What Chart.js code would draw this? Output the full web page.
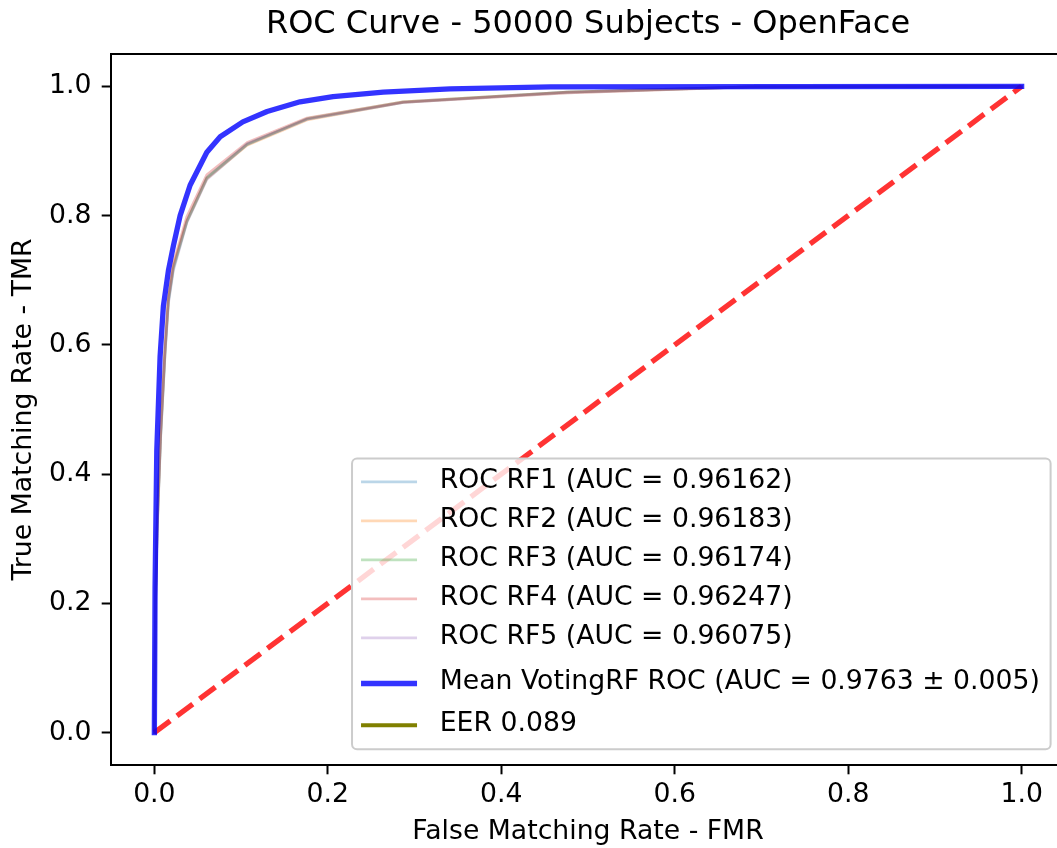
<!DOCTYPE html>
<html>
<head>
<meta charset="utf-8">
<script src="https://cdn.jsdelivr.net/npm/chart.js@4.4.1/dist/chart.umd.min.js"></script>
<style>
  html, body { margin: 0; padding: 0; background: #fff; overflow: hidden; }
</style>
</head>
<body>
<canvas id="roc" width="1065" height="848"></canvas>
<script>
// values
const rfFpr = [0, 0.0014, 0.0031, 0.0072, 0.0123, 0.0162, 0.0219, 0.0374, 0.0605, 0.107, 0.176, 0.287, 0.476, 0.687, 1];
const rf1Tpr = [0, 0.205, 0.313, 0.460, 0.590, 0.669, 0.720, 0.792, 0.859, 0.911, 0.949, 0.975, 0.991, 0.999, 1];
const rf2Tpr = [0, 0.200, 0.310, 0.462, 0.592, 0.671, 0.722, 0.791, 0.857, 0.909, 0.948, 0.975, 0.990, 0.999, 1];
const rf3Tpr = [0, 0.203, 0.311, 0.458, 0.588, 0.667, 0.718, 0.790, 0.858, 0.910, 0.950, 0.976, 0.991, 0.999, 1];
const rf4Tpr = [0, 0.210, 0.318, 0.466, 0.596, 0.675, 0.726, 0.798, 0.863, 0.913, 0.951, 0.976, 0.991, 0.999, 1];
const rf5Tpr = [0, 0.198, 0.306, 0.455, 0.585, 0.664, 0.715, 0.789, 0.856, 0.910, 0.949, 0.975, 0.990, 0.999, 1];
const rfAuc = [0.96162, 0.96183, 0.96174, 0.96247, 0.96075];

const meanFpr = [0, 0.0008, 0.0028, 0.0066, 0.0104, 0.0162, 0.0219, 0.0297, 0.0412, 0.0605, 0.0759, 0.102, 0.130, 0.168, 0.206, 0.264, 0.341, 0.457, 1];
const meanTpr = [0, 0.225, 0.437, 0.582, 0.660, 0.715, 0.753, 0.800, 0.847, 0.898, 0.922, 0.945, 0.961, 0.976, 0.984, 0.991, 0.996, 0.999, 1];
const meanAuc = 0.9763;
const stdAuc = 0.005;
const eer = 0.089;

const chanceX = [0, 1];
const chanceY = [0, 1];

const axisTicks = [0, 0.2, 0.4, 0.6, 0.8, 1.0];

const pts = (xs, ys) => xs.map((x, i) => ({x: x, y: ys[i]}));

const rfColors = [
  'rgba(31, 119, 180, 0.3)',
  'rgba(255, 127, 14, 0.3)',
  'rgba(44, 160, 44, 0.3)',
  'rgba(214, 39, 40, 0.3)',
  'rgba(148, 103, 189, 0.3)',
];
const rfTprs = [rf1Tpr, rf2Tpr, rf3Tpr, rf4Tpr, rf5Tpr];

// later folds on top, as matplotlib draws them
const rfSets = rfTprs.map((t, i) => ({
  label: 'ROC RF' + (i + 1) + ' (AUC = ' + rfAuc[i].toFixed(5) + ')',
  data: pts(rfFpr, t),
  borderColor: rfColors[i],
  borderWidth: 2.7,
  order: 7 - i,
}));

const fontFamily = '"DejaVu Sans", sans-serif';
Chart.defaults.font.family = fontFamily;
Chart.defaults.color = '#000';

// legend in the lower right, drawn over the curves like matplotlib's
const legendBox = {
  id: 'legendBox',
  afterDatasetsDraw(chart) {
    const ctx = chart.ctx, area = chart.chartArea;
    ctx.save();
    // full frame (top + right spines)
    ctx.strokeStyle = '#000';
    ctx.lineWidth = 2;
    ctx.strokeRect(area.left, area.top, area.right - area.left, area.bottom - area.top);

    const items = chart.data.datasets.filter(d => d.label);
    ctx.font = '26.7px ' + fontFamily;
    const textW = Math.max(...items.map(d => ctx.measureText(d.label).width));
    const rows = [23.4, 62.4, 101.4, 140.4, 179.4, 225, 266.7];
    const boxH = 290.7;
    const boxW = 87.7 + textW + 10.7;
    const x0 = area.right - 14.4 - boxW;
    const y0 = area.bottom - 15.8 - boxH;
    ctx.beginPath();
    ctx.roundRect(x0, y0, boxW, boxH, 5);
    ctx.fillStyle = 'rgba(255,255,255,0.8)';
    ctx.fill();
    ctx.strokeStyle = '#cccccc';
    ctx.lineWidth = 2;
    ctx.stroke();
    items.forEach((d, i) => {
      const y = y0 + rows[i];
      ctx.beginPath();
      ctx.moveTo(x0 + 9, y);
      ctx.lineTo(x0 + 65, y);
      ctx.strokeStyle = d.borderColor;
      ctx.lineWidth = d.borderWidth;
      ctx.lineCap = 'butt';
      ctx.setLineDash([]);
      ctx.stroke();
      ctx.fillStyle = '#000';
      ctx.textBaseline = 'middle';
      ctx.textAlign = 'left';
      ctx.fillText(d.label, x0 + 87.7, y - 1);
    });
    ctx.restore();
  }
};

const roc = document.getElementById('roc').getContext('2d');

new Chart(roc, {
  type: 'line',
  data: {
    datasets: [
      ...rfSets,
      {
        label: '',
        data: pts(chanceX, chanceY),
        borderColor: 'rgba(255, 0, 0, 0.8)',
        borderWidth: 5.3,
        borderDash: [19.7, 8.5],
        borderCapStyle: 'butt',
        order: 1,
      },
      {
        label: 'Mean VotingRF ROC (AUC = ' + meanAuc.toFixed(4) + ' \u00b1 ' + stdAuc.toFixed(3) + ')',
        data: pts(meanFpr, meanTpr),
        borderColor: 'rgba(0, 0, 255, 0.8)',
        borderWidth: 5.3,
        order: 0,
      },
      {
        label: 'EER ' + eer.toFixed(3),
        data: [],
        borderColor: '#808000',
        borderWidth: 4,
        order: 8,
      },
    ],
  },
  options: {
    responsive: false,
    animation: false,
    devicePixelRatio: 1,
    layout: { padding: 0 },
    elements: {
      point: { radius: 0, hoverRadius: 0 },
      line: { tension: 0, fill: false, borderCapStyle: 'square', borderJoinStyle: 'round' },
    },
    plugins: {
      legend: { display: false },
      tooltip: { enabled: false },
      title: {
        display: true,
        fullSize: false,
        text: 'ROC Curve - 50000 Subjects - OpenFace',
        color: '#000',
        font: { size: 32, weight: 'normal', family: fontFamily, lineHeight: 1.2 },
        padding: { top: 5.8, bottom: 9.8 },
      },
    },
    scales: {
      x: {
        type: 'linear',
        position: 'bottom',
        min: -0.05,
        max: 1.05,
        afterBuildTicks: s => { s.ticks = axisTicks.map(v => ({ value: v })); },
        afterFit: s => { s.height = 83; },
        grid: { drawOnChartArea: false, drawTicks: true, tickLength: 9.3, tickWidth: 2, tickColor: '#000' },
        border: { display: true, color: '#000', width: 2 },
        ticks: {
          padding: 4.4,
          maxRotation: 0,
          font: { size: 26.7 },
          color: '#000',
          callback: v => v.toFixed(1),
        },
        title: {
          display: true,
          text: 'False Matching Rate - FMR',
          color: '#000',
          font: { size: 26.7, lineHeight: 1.2 },
          padding: { top: 0, bottom: 0.4 },
        },
      },
      y: {
        type: 'linear',
        min: -0.05,
        max: 1.05,
        afterBuildTicks: s => { s.ticks = axisTicks.map(v => ({ value: v })); },
        afterFit: s => { s.width = 111; },
        grid: { drawOnChartArea: false, drawTicks: true, tickLength: 9.3, tickWidth: 2, tickColor: '#000' },
        border: { display: true, color: '#000', width: 2 },
        ticks: {
          padding: 10.2,
          font: { size: 26.7 },
          color: '#000',
          callback: v => v.toFixed(1),
        },
        title: {
          display: true,
          text: 'True Matching Rate - TMR',
          color: '#000',
          font: { size: 26.7, lineHeight: 1.2 },
          padding: { top: 8.5, bottom: 0 },
        },
      },
    },
  },
  plugins: [legendBox],
});
</script>
</body>
</html>
